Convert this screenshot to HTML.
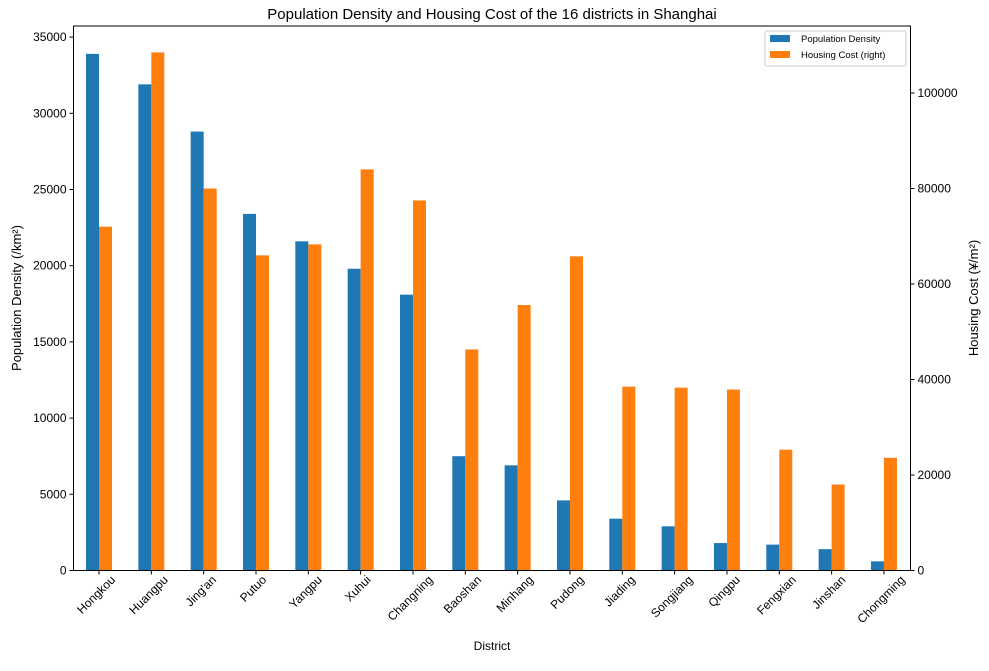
<!DOCTYPE html>
<html><head><meta charset="utf-8"><style>
body{margin:0;background:#fff;font-family:"Liberation Sans","Noto Sans CJK SC",sans-serif}
</style></head><body>
<svg id="c" width="989" height="666" xmlns="http://www.w3.org/2000/svg" font-family="Liberation Sans, Noto Sans CJK SC, sans-serif"></svg>
<script>
const categories=["Hongkou","Huangpu","Jing'an","Putuo","Yangpu","Xuhui","Changning","Baoshan","Minhang","Pudong","Jiading","Songjiang","Qingpu","Fengxian","Jinshan","Chongming"];
const density=[33900,31900,28800,23400,21600,19800,18100,7500,6900,4600,3400,2900,1800,1700,1400,600];
const housing=[72000,108500,80000,66000,68300,84000,77500,46300,55600,65800,38500,38300,37900,25300,18000,23600];
const leftTicks=[0,5000,10000,15000,20000,25000,30000,35000];
const rightTicks=[0,20000,40000,60000,80000,100000];
const svg=document.getElementById('c');
const NS="http://www.w3.org/2000/svg";
const L=73.5,R=910.5,T=26,B=570.5;
const yL=v=>B-v*(76.2/5000);
const yR=v=>B-v*((B-93)/100000);
const xC=i=>99+i*52.33;
const bw=13;
function mk(t,a,p){const e=document.createElementNS(NS,t);for(const k in a)e.setAttribute(k,a[k]);(p||svg).appendChild(e);return e;}
function tx(x,y,s,a){const e=mk('text',Object.assign({x:x,y:y,'font-size':12,fill:'#000'},a||{}));e.textContent=s;return e;}
categories.forEach((c,i)=>{
 const b=mk('rect',{x:xC(i)-bw,y:yL(density[i]),width:bw,height:B-yL(density[i]),fill:'#1f77b4'});
 
 
 const o=mk('rect',{x:xC(i),y:yR(housing[i]),width:bw,height:B-yR(housing[i]),fill:'#ff7f0e'});
 
 
 mk('line',{x1:xC(i),x2:xC(i),y1:B,y2:B+4,stroke:'#000'});
 const t=tx(0,0,c,{'text-anchor':'end'});
 
 
 const w=t.getComputedTextLength();
 const ex=xC(i)+w*0.707/2, ey=B+10;
 t.setAttribute('x',ex);t.setAttribute('y',ey);
 t.setAttribute('transform',`rotate(-45 ${ex} ${ey})`);
});
mk('rect',{x:L,y:T,width:R-L,height:B-T,fill:'none',stroke:'#000','stroke-width':1});
leftTicks.forEach(v=>{mk('line',{x1:L-4,x2:L,y1:yL(v),y2:yL(v),stroke:'#000'});
 const t=tx(L-7,yL(v)+4,String(v),{'text-anchor':'end'});
 
 });
rightTicks.forEach(v=>{mk('line',{x1:R,x2:R+4,y1:yR(v),y2:yR(v),stroke:'#000'});
 const t=tx(R+7,yR(v)+4,String(v),{});
 
 });
let e=tx(492,19,'Population Density and Housing Cost of the 16 districts in Shanghai',{'text-anchor':'middle','font-size':15});

e=tx(492,650,'District',{'text-anchor':'middle'});

e=tx(21,298,'Population Density (/km²)',{'text-anchor':'middle','font-size':13,transform:'rotate(-90 21 298)'});

e=tx(978,298,'Housing Cost (¥/m²)',{'text-anchor':'middle','font-size':13,transform:'rotate(-90 978 298)'});

const g=mk('g',{});

mk('rect',{x:765,y:31,width:141,height:35,fill:'#fff',stroke:'#ccc',rx:2},g);
mk('rect',{x:770,y:35,width:20,height:7,fill:'#1f77b4'},g);
mk('rect',{x:770,y:51,width:20,height:7,fill:'#ff7f0e'},g);
tx(801,42,'Population Density',{'font-size':9.5});
tx(801,58,'Housing Cost (right)',{'font-size':9.5});
</script>
</body></html>
